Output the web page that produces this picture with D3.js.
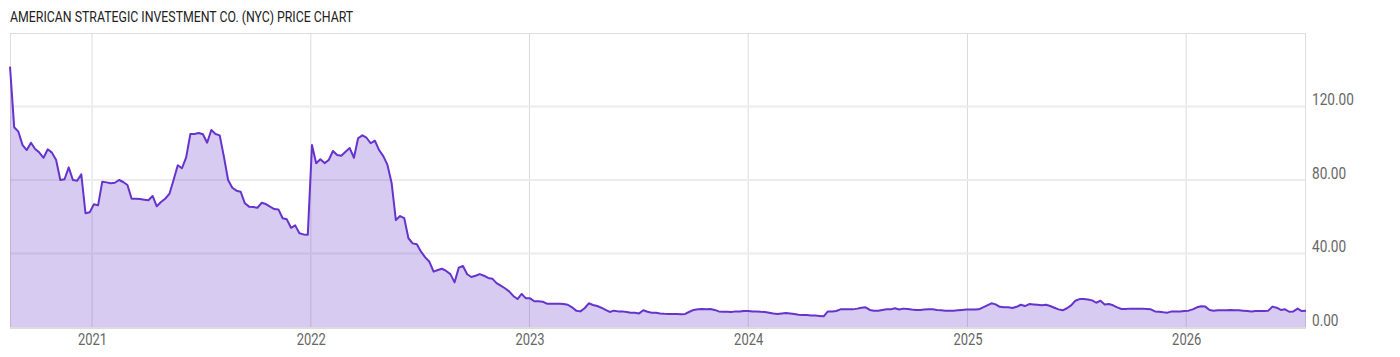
<!DOCTYPE html>
<html>
<meta charset="utf-8">
<style>
body{
	margin:0;
	background:#fff;
}
svg text{
	font-family:Roboto, "Liberation Sans", sans-serif;
}
</style>
<body>
<svg width="1400" height="357"></svg>
<script src="https://cdn.jsdelivr.net/npm/d3@7"></script>
<script>

var title = "AMERICAN STRATEGIC INVESTMENT CO. (NYC) PRICE CHART";

// weekly closes, first week starting 2020-08-17
var startDate = "2020-08-17";
var prices = [
  141.7,108.7,106.3,99,96.3,100.3,96.9,94.9,92.1,96.7,
  94.9,90.9,80,80.4,86.9,80,79.6,83.1,61.9,62.4,
  66.8,66.2,79.1,78.7,78.2,78.5,80,78.9,77.3,69.8,
  69.8,69.6,69.3,69,71.3,65.7,68,69.8,72.4,80,
  88,86.4,92.3,105,105,105.6,104.9,100.3,107.2,105,
  104.3,92.7,80,75.8,74.2,73.6,67.3,65.5,65.3,64.9,
  67.6,66.9,65.5,64.2,64,59.2,58.6,54,55.3,51,
  50.4,50.2,99,89.1,91.3,89.2,90.9,95.8,93.6,93.2,
  95.4,97.4,92.1,102.7,104.3,103,100,101.4,96.3,93,
  88.2,78.2,58.2,60.4,59.2,48.3,45.5,45,41,37.9,
  35.5,30.1,31,31.7,30.5,28.8,24.3,32.3,33.2,28.7,
  27.2,27.9,28.8,27.9,26.7,26.3,23.9,22.5,21.1,19.4,
  16.9,15.2,18,15.6,15.6,14,14,13.8,12.7,12.7,
  12.7,12.7,12.5,12.1,10.7,8.9,8.5,10.2,12.9,12,
  11.4,10.5,9.3,8.2,8.9,8.5,8.5,8.2,7.8,7.8,
  7.4,9.1,8.3,7.8,7.8,7.4,7.2,7.1,7.1,7.1,
  7,7.1,8.3,9.3,9.6,9.8,9.6,9.8,9.3,8.5,
  8.3,8.3,8.2,8.5,8.5,8.7,8.7,8.5,8.5,8.3,
  8.2,7.8,7.4,7.1,7.4,7.6,7.4,7.1,6.7,6.5,
  6.5,6.3,6.2,6,5.8,8.5,8.5,8.7,9.6,9.6,
  9.6,9.6,10,10.5,10.7,9.3,8.9,8.9,9.3,9.6,
  9.6,10.2,9.5,10,9.8,9.5,9.3,9.3,9.5,9.6,
  9.6,9.3,9.1,8.9,8.9,8.9,9.1,9.3,9.5,9.5,
  9.5,9.6,10.7,11.8,12.9,12.3,11,10.7,10.7,10.3,
  11,12.1,11.4,12.5,12.3,12.1,11.9,12.1,11.4,10.5,
  9.6,9.1,10.2,11.8,14.3,15.2,15.2,15,14.5,13.2,
  14.3,12.3,12.5,11.8,10.7,9.8,9.8,10,10,10,
  10,9.8,9.6,8.5,8.3,8,7.8,8.5,8.5,8.5,
  8.7,8.9,9.6,10.7,11.3,11.1,9.3,8.9,9.1,9.1,
  9.1,9.3,9.1,9.1,8.9,8.7,8.5,8.7,8.7,8.7,
  8.9,11.1,10.5,9.3,9.6,8.3,8.5,10,8.7,8.9
];
var yTicks = [0, 40, 80, 120];

var svg = d3.select("svg"),
    pLeft = 10, pRight = 1306, pTop = 33, pBottom = 327;

var start = d3.timeParse("%Y-%m-%d")(startDate);
var data = prices.map(function(v, i) {
  return {date: d3.timeWeek.offset(start, i), value: v};
});

var x = d3.scaleTime()
    .domain(d3.extent(data, function(d) { return d.date; }))
    .range([pLeft, pRight]);

var y = d3.scaleLinear()
    .domain([0, 160])
    .range([pBottom, pTop]);

// condense text like the original narrow face
function squeeze(sel, k) {
  sel.each(function() {
    var w = this.getComputedTextLength();
    d3.select(this).attr("textLength", w * k).attr("lengthAdjust", "spacingAndGlyphs");
  });
}

svg.append("text")
    .attr("x", 10)
    .attr("y", 22)
    .attr("fill", "#222")
    .style("font-size", "14px")
    .text(title)
    .call(squeeze, 0.88);

// grid
var years = x.ticks(d3.timeYear.every(1));

svg.append("g").selectAll("line")
    .data(years)
    .enter().append("line")
      .attr("x1", function(d) { return x(d); })
      .attr("x2", function(d) { return x(d); })
      .attr("y1", pTop)
      .attr("y2", pBottom)
      .attr("stroke", "#dcdcdc")
      .attr("stroke-width", 1);

svg.append("g").selectAll("line")
    .data(yTicks.filter(function(d) { return d > 0; }))
    .enter().append("line")
      .attr("x1", pLeft)
      .attr("x2", pRight)
      .attr("y1", function(d) { return y(d); })
      .attr("y2", function(d) { return y(d); })
      .attr("stroke", "#ececec")
      .attr("stroke-width", 2);

// frame
svg.append("rect")
    .attr("x", pLeft + 0.5)
    .attr("y", pTop + 0.5)
    .attr("width", pRight - pLeft - 1)
    .attr("height", pBottom - pTop)
    .attr("fill", "none")
    .attr("stroke", "#dedede");

var area = d3.area()
    .x(function(d) { return x(d.date); })
    .y0(y(0))
    .y1(function(d) { return y(d.value); });

var line = d3.line()
    .x(function(d) { return x(d.date); })
    .y(function(d) { return y(d.value); });

svg.append("path")
    .datum(data)
    .attr("d", area)
    .attr("fill", "rgba(108,62,206,0.27)");

svg.append("path")
    .datum(data)
    .attr("d", line)
    .attr("fill", "none")
    .attr("stroke", "#6633cc")
    .attr("stroke-width", 2)
    .attr("stroke-linejoin", "round");

// bottom baseline
svg.append("line")
    .attr("x1", pLeft)
    .attr("x2", pRight)
    .attr("y1", pBottom + 1)
    .attr("y2", pBottom + 1)
    .attr("stroke", "#dcdcdc")
    .attr("stroke-width", 2);

// axes
var xAxis = svg.append("g")
    .attr("transform", "translate(0," + (pBottom + 2) + ")")
    .call(d3.axisBottom(x).tickValues(years).tickFormat(d3.timeFormat("%Y")).tickSize(0).tickPadding(5));
xAxis.select(".domain").remove();
xAxis.selectAll("text")
    .attr("fill", "#666")
    .style("font-size", "16px")
    .call(squeeze, 0.81);

var yAxis = svg.append("g")
    .attr("transform", "translate(" + (pRight + 6) + ",0)")
    .call(d3.axisRight(y).tickValues(yTicks).tickFormat(d3.format(".2f")).tickSize(0).tickPadding(0));
yAxis.select(".domain").remove();
yAxis.selectAll("text")
    .attr("fill", "#666")
    .attr("dy", "-0.1em")
    .style("font-size", "16px")
    .call(squeeze, 0.85);

</script>
</body>
</html>
